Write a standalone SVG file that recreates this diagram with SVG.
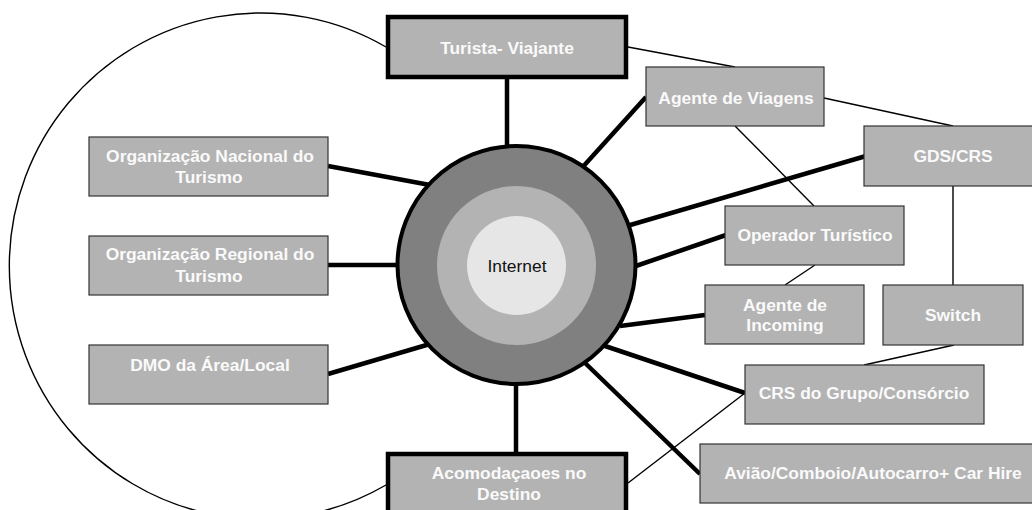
<svg xmlns="http://www.w3.org/2000/svg" width="1032" height="510" viewBox="0 0 1032 510">
<style>
.box{fill:#b3b3b3;stroke:#333;stroke-width:1.2}
.bbox{fill:#b3b3b3;stroke:#000;stroke-width:4.5}
.lbl{font-family:"Liberation Sans",Arial,sans-serif;font-weight:bold;font-size:17.4px;fill:#fafafa;text-anchor:middle}
.thick{stroke:#000;stroke-width:4.5;fill:none}
.thin{stroke:#000;stroke-width:1.4;fill:none}
</style>
<rect width="1032" height="510" fill="#fff"/>
<g id="connectors">
<path class="thin" d="M386,47 A251,253 0 1,0 386,485"/>
<line class="thin" x1="628" y1="47" x2="735" y2="67"/>
<line class="thin" x1="824" y1="98" x2="953" y2="126"/>
<line class="thin" x1="735" y1="126" x2="814" y2="206"/>
<line class="thin" x1="815" y1="265" x2="785" y2="285"/>
<line class="thin" x1="953" y1="186" x2="953" y2="285"/>
<line class="thin" x1="954" y1="345" x2="864" y2="365"/>
<line class="thin" x1="628" y1="483" x2="745" y2="393"/>
<line class="thick" x1="507" y1="79" x2="507" y2="150"/>
<line class="thick" x1="580" y1="170" x2="646" y2="97"/>
<line class="thick" x1="620" y1="228" x2="866" y2="156"/>
<line class="thick" x1="630" y1="268" x2="726" y2="235"/>
<line class="thick" x1="620" y1="326" x2="705" y2="315"/>
<line class="thick" x1="602" y1="345" x2="745" y2="393"/>
<line class="thick" x1="583" y1="361" x2="700" y2="474"/>
<line class="thick" x1="516" y1="380" x2="516" y2="454"/>
<line class="thick" x1="328" y1="166" x2="430" y2="185"/>
<line class="thick" x1="328" y1="265" x2="402" y2="265"/>
<line class="thick" x1="328" y1="374" x2="430" y2="344"/>
</g>
<g id="internet">
<circle cx="516.5" cy="265" r="119" fill="#808080" stroke="#000" stroke-width="4"/>
<circle cx="516.5" cy="265.5" r="79.5" fill="#b3b3b3"/>
<circle cx="516.5" cy="265.5" r="49.5" fill="#e6e6e6"/>
<text x="517" y="272" font-family="Liberation Sans,Arial,sans-serif" font-size="17.4" fill="#111" text-anchor="middle">Internet</text>
</g>
<g id="turista"><rect class="bbox" x="388" y="17" width="238" height="60"/><text class="lbl" x="507" y="54">Turista- Viajante</text></g>
<g id="agente-viagens"><rect class="box" x="646" y="67" width="178" height="59"/><text class="lbl" x="736" y="104">Agente de Viagens</text></g>
<g id="gds"><rect class="box" x="864" y="126" width="180" height="60"/><text class="lbl" x="953" y="162">GDS/CRS</text></g>
<g id="org-nacional"><rect class="box" x="89" y="137" width="239" height="59"/><text class="lbl" x="210" y="162">Organização Nacional do</text><text class="lbl" x="209" y="183">Turismo</text></g>
<g id="org-regional"><rect class="box" x="89" y="236" width="239" height="59"/><text class="lbl" x="210" y="260">Organização Regional do</text><text class="lbl" x="209" y="282">Turismo</text></g>
<g id="dmo"><rect class="box" x="89" y="345" width="239" height="59"/><text class="lbl" x="210" y="371">DMO da Área/Local</text></g>
<g id="operador"><rect class="box" x="725" y="206" width="179" height="59"/><text class="lbl" x="815" y="241">Operador Turístico</text></g>
<g id="incoming"><rect class="box" x="705" y="285" width="159" height="59"/><text class="lbl" x="785" y="311">Agente de</text><text class="lbl" x="785" y="331">Incoming</text></g>
<g id="switch"><rect class="box" x="883" y="285" width="140" height="60"/><text class="lbl" x="953" y="321">Switch</text></g>
<g id="crs-grupo"><rect class="box" x="745" y="365" width="239" height="59"/><text class="lbl" x="864" y="399">CRS do Grupo/Consórcio</text></g>
<g id="aviao"><rect class="box" x="700" y="444" width="340" height="59"/><text class="lbl" x="873" y="479">Avião/Comboio/Autocarro+ Car Hire</text></g>
<g id="acomodacoes"><rect class="bbox" x="388" y="454" width="238" height="70"/><text class="lbl" x="509" y="479">Acomodaçaoes no</text><text class="lbl" x="509" y="500">Destino</text></g>
</svg>
